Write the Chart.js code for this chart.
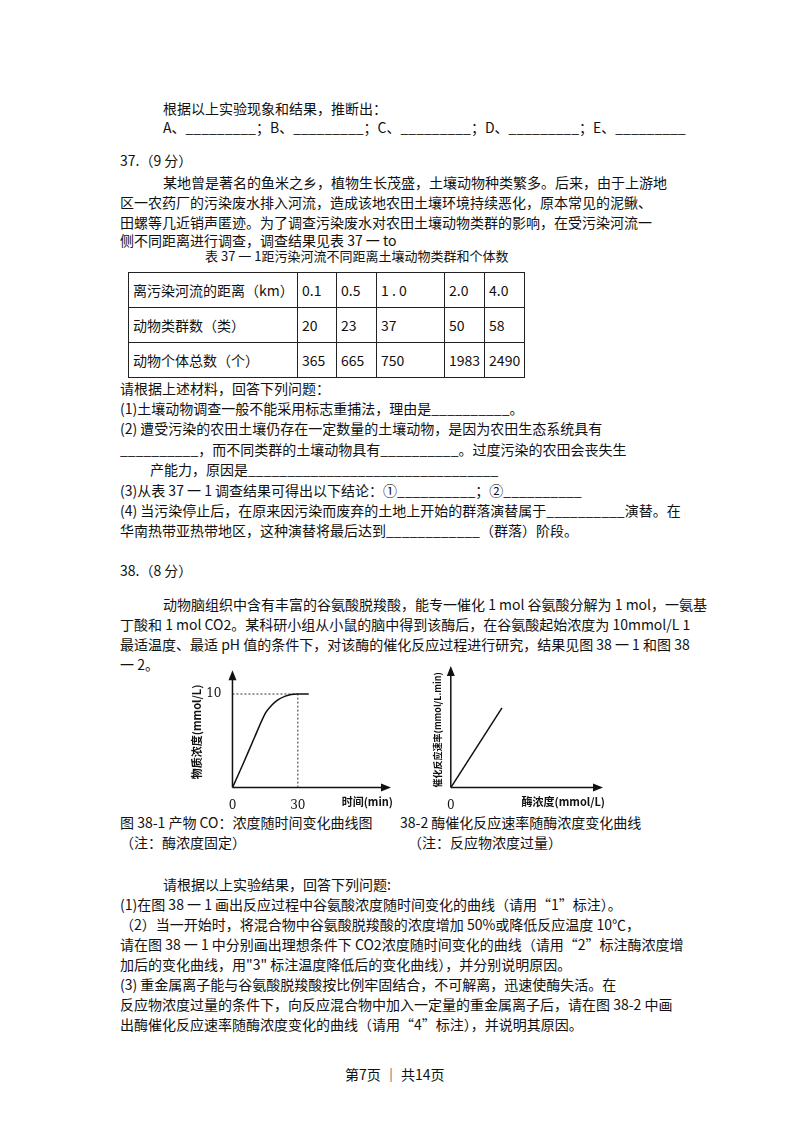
<!DOCTYPE html>
<html>
<head>
<meta charset="UTF-8">
<script src="https://cdn.jsdelivr.net/npm/chart.js"></script>
<style>
  body { margin: 0; width: 800px; height: 1132px; position: relative; background: #fff;
         font-family: "Noto Sans CJK SC", sans-serif; font-size: 14px; color: #111; }
  .t { position: absolute; white-space: pre; line-height: 16px; }
  .box { position: absolute; }
  table { position: absolute; left: 128px; top: 272px; border-collapse: collapse; font-size: 14px; }
  td { border: 1px solid #222; height: 34px; padding: 0 4px; }
</style>
</head>
<body>
<div id="page"></div>
<table>
  <tr><td style="width:160px">离污染河流的距离（km）</td><td style="width:30px">0.1</td><td style="width:31px">0.5</td><td style="width:59px">1 . 0</td><td style="width:31px">2.0</td><td style="width:31px">4.0</td></tr>
  <tr><td>动物类群数（类）</td><td>20</td><td>23</td><td>37</td><td>50</td><td>58</td></tr>
  <tr><td>动物个体总数（个）</td><td>365</td><td>665</td><td>750</td><td>1983</td><td>2490</td></tr>
</table>
<div class="box" style="left:190px;top:666px;width:205px;height:150px"><canvas id="c1"></canvas></div>
<div class="box" style="left:432px;top:666px;width:175px;height:150px"><canvas id="c2"></canvas></div>
<script>
// text lines: [x, y, text, size]
const lines = [
  [163, 100, '根据以上实验现象和结果，推断出：'],
  [163, 119, 'A、_________；B、_________；C、_________；D、_________；E、_________'],
  [120, 152, '37.（9 分）'],
  [163, 174, '某地曾是著名的鱼米之乡，植物生长茂盛，土壤动物种类繁多。后来，由于上游地'],
  [120, 194, '区一农药厂的污染废水排入河流，造成该地农田土壤环境持续恶化，原本常见的泥鳅、'],
  [120, 214, '田螺等几近销声匿迹。为了调查污染废水对农田土壤动物类群的影响，在受污染河流一'],
  [120, 232, '侧不同距离进行调查，调查结果见表 37 一 to'],
  [205, 248, '表 37 一 1距污染河流不同距离土壤动物类群和个体数', 13],
  [120, 380, '请根据上述材料，回答下列问题：'],
  [120, 400, '(1)土壤动物调查一般不能采用标志重捕法，理由是__________。'],
  [120, 420, '(2) 遭受污染的农田土壤仍存在一定数量的土壤动物，是因为农田生态系统具有'],
  [120, 441, '__________，而不同类群的土壤动物具有__________。过度污染的农田会丧失生'],
  [150, 461, '产能力，原因是________________________________'],
  [120, 482, '(3)从表 37 一 1 调查结果可得出以下结论：①__________；②__________'],
  [120, 502, '(4) 当污染停止后，在原来因污染而废弃的土地上开始的群落演替属于__________演替。在'],
  [120, 522, '华南热带亚热带地区，这种演替将最后达到____________（群落）阶段。'],
  [120, 562, '38.（8 分）'],
  [163, 596, '动物脑组织中含有丰富的谷氨酸脱羧酸，能专一催化 1 mol 谷氨酸分解为 1 mol，一氨基'],
  [120, 616, '丁酸和 1 mol CO2。某科研小组从小鼠的脑中得到该酶后，在谷氨酸起始浓度为 10mmol/L 1'],
  [120, 636, '最适温度、最适 pH 值的条件下，对该酶的催化反应过程进行研究，结果见图 38 一 1 和图 38'],
  [120, 656, '一 2。'],
  [120, 814, '图 38-1 产物 CO：浓度随时间变化曲线图'],
  [400, 814, '38-2 酶催化反应速率随酶浓度变化曲线'],
  [120, 834, '（注：酶浓度固定）'],
  [408, 834, '（注：反应物浓度过量）'],
  [163, 876, '请根据以上实验结果，回答下列问题:'],
  [120, 896, '(1)在图 38 一 1 画出反应过程中谷氨酸浓度随时间变化的曲线（请用“1”标注）。'],
  [120, 916, '（2）当一开始时，将混合物中谷氨酸脱羧酸的浓度增加 50%或降低反应温度 10℃，'],
  [120, 936, '请在图 38 一 1 中分别画出理想条件下 CO2浓度随时间变化的曲线（请用“2”标注酶浓度增'],
  [120, 956, '加后的变化曲线，用"3" 标注温度降低后的变化曲线），并分别说明原因。'],
  [120, 976, '(3) 重金属离子能与谷氨酸脱羧酸按比例牢固结合，不可解离，迅速使酶失活。在'],
  [120, 996, '反应物浓度过量的条件下，向反应混合物中加入一定量的重金属离子后，请在图 38-2 中画'],
  [120, 1016, '出酶催化反应速率随酶浓度变化的曲线（请用“4”标注），并说明其原因。'],
  [345, 1066, '第7页 ｜ 共14页']
];
const page = document.getElementById('page');
lines.forEach(([x, y, s, size]) => {
  const d = document.createElement('div');
  d.className = 't'; d.style.left = x + 'px'; d.style.top = y + 'px'; d.textContent = s;
  if (size) d.style.fontSize = size + 'px';
  page.appendChild(d);
});

// Figure 38-1: product concentration vs time
const time1 = [0, 5, 10, 15, 18, 21, 24, 27, 30, 35];
const conc1 = [0, 2.6, 5.3, 7.9, 8.8, 9.4, 9.75, 9.95, 10, 10];
const guideH = [{x: 0, y: 10}, {x: 30, y: 10}];
const guideV = [{x: 30, y: 0}, {x: 30, y: 10}];

// Figure 38-2: rate vs enzyme concentration
const enz2 = [0, 3.5];
const rate2 = [0, 6.9];

const serif = '"DejaVu Serif", serif';

const arrows = {
  id: 'arrows',
  afterDraw(chart, args, opts) {
    const {ctx, chartArea: a} = chart;
    ctx.save();
    ctx.fillStyle = '#111'; ctx.strokeStyle = '#111'; ctx.lineWidth = 1.5;
    ctx.beginPath(); ctx.moveTo(a.left, a.bottom); ctx.lineTo(a.left, a.top); ctx.moveTo(a.left, a.bottom); ctx.lineTo(a.right, a.bottom); ctx.stroke();
    ctx.beginPath(); ctx.moveTo(a.left, a.top - 6); ctx.lineTo(a.left - 4, a.top + 4); ctx.lineTo(a.left + 4, a.top + 4); ctx.fill();
    ctx.beginPath(); ctx.moveTo(a.right + 6, a.bottom); ctx.lineTo(a.right - 4, a.bottom - 4); ctx.lineTo(a.right - 4, a.bottom + 4); ctx.fill();
    ctx.font = 'bold 11px "Noto Sans CJK SC"';
    ctx.textBaseline = 'top'; ctx.textAlign = 'right';
    ctx.fillText(opts.xText, a.right + 8, a.bottom + 9);
    ctx.restore();
  }
};

function axes(xmax, ymax, xticks, yticks, ytitle, tsize) {
  return {
    x: { type: 'linear', min: 0, max: xmax, border: {display: false}, grid: {display: false},
         afterBuildTicks: s => { s.ticks = xticks.map(v => ({value: v})); },
         ticks: {color: '#111', font: {family: serif, size: 12}, maxRotation: 0} },
    y: { type: 'linear', min: 0, max: ymax, border: {display: false}, grid: {display: false},
         afterBuildTicks: s => { s.ticks = yticks.map(v => ({value: v})); },
         ticks: {color: '#111', font: {family: serif, size: 12}},
         title: {display: true, text: ytitle, color: '#111', padding: 0, font: {family: 'Noto Sans CJK SC', size: tsize, weight: 'bold'}} }
  };
}

const base = { responsive: true, maintainAspectRatio: false, animation: false,
  plugins: { legend: {display: false}, tooltip: {enabled: false} } };

new Chart(document.getElementById('c1'), {
  type: 'line',
  data: { datasets: [
    { data: time1.map((t, i) => ({x: t, y: conc1[i]})), borderColor: '#111', borderWidth: 1.5, pointRadius: 0, tension: 0.3 },
    { data: guideH, borderColor: '#333', borderWidth: 1, borderDash: [2, 2], pointRadius: 0 },
    { data: guideV, borderColor: '#333', borderWidth: 1, borderDash: [2, 2], pointRadius: 0 }
  ]},
  options: Object.assign({}, base, {
    layout: {padding: {top: 6, right: 10, bottom: 0}},
    scales: axes(70, 11.9, [0, 30], [10], '物质浓度(mmol/L)', 11),
    plugins: Object.assign({}, base.plugins, {arrows: {xText: '时间(min)'}})
  }),
  plugins: [arrows]
});

new Chart(document.getElementById('c2'), {
  type: 'line',
  data: { datasets: [
    { data: enz2.map((e, i) => ({x: e, y: rate2[i]})), borderColor: '#111', borderWidth: 1.5, pointRadius: 0 }
  ]},
  options: Object.assign({}, base, {
    layout: {padding: {top: 6, right: 10, bottom: 0}},
    scales: axes(10, 10, [0], [], '催化反应速率(mmol/L.min)', 9),
    plugins: Object.assign({}, base.plugins, {arrows: {xText: '酶浓度(mmol/L)'}})
  }),
  plugins: [arrows]
});
</script>
</body>
</html>
